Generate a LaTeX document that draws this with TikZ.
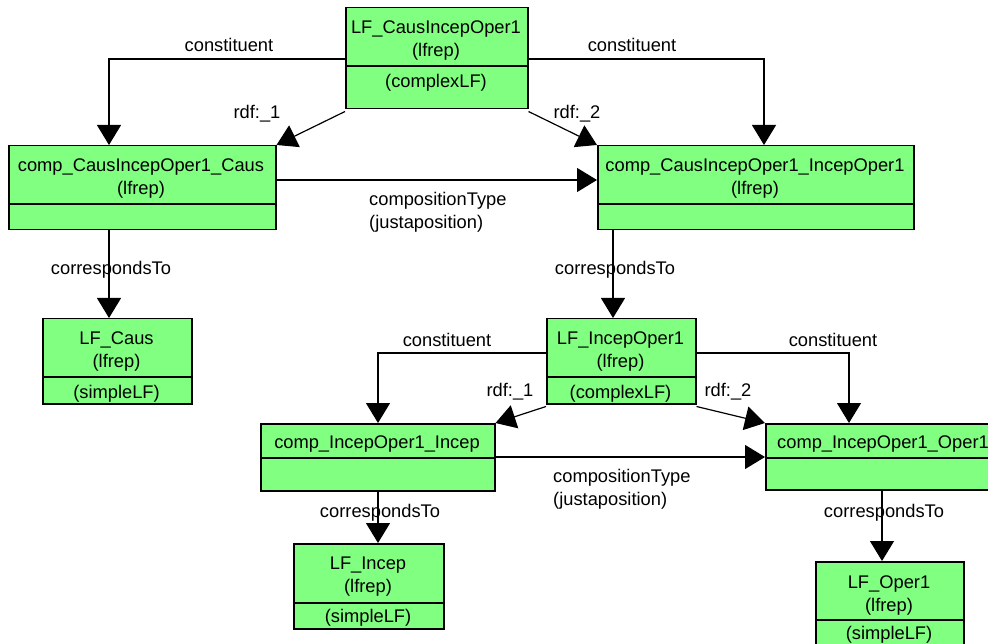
\documentclass[tikz,border=0pt]{standalone}
\usepackage{fontspec}
\setmainfont{Liberation Sans}
\usetikzlibrary{arrows.meta}
\definecolor{boxgreen}{RGB}{128,255,128}
\tikzset{
  umlbox/.style={draw=black, line width=1.5pt, fill=boxgreen, rectangle, inner sep=0pt, anchor=north west},
  txt/.style={inner sep=0pt, align=center, font=\fontsize{18.3}{23}\selectfont},
  lbl/.style={inner sep=0pt, font=\fontsize{18.3}{23}\selectfont},
  edge/.style={draw=black, line width=1.2pt, -{Triangle[width=24pt,length=20pt]}},
  divider/.style={draw=black, line width=1.5pt}
}
\begin{document}
\begin{tikzpicture}[x=1pt,y=-1pt]
\useasboundingbox (0,0) rectangle (988,644);
\fill[white] (0,0) rectangle (988,644);
\clip (0,0) rectangle (988,644);

% boxes
\node[umlbox, minimum width=182pt, minimum height=101pt] (b1) at (345,7) {};
\node[umlbox, minimum width=267pt, minimum height=84pt] (b2) at (8,145) {};
\node[umlbox, minimum width=316pt, minimum height=84pt] (b3) at (597,145) {};
\node[umlbox, minimum width=149pt, minimum height=85pt] (b4) at (42,318) {};
\node[umlbox, minimum width=149pt, minimum height=85pt] (b5) at (546,318) {};
\node[umlbox, minimum width=234pt, minimum height=67pt] (b6) at (260,423) {};
\node[umlbox, minimum width=236pt, minimum height=66pt] (b7) at (765,423) {};
\node[umlbox, minimum width=150pt, minimum height=85pt] (b8) at (293,543) {};
\node[umlbox, minimum width=148pt, minimum height=85pt] (b9) at (815,561) {};

% dividers
\draw[divider] ([yshift=-59pt]b1.north west) -- ([yshift=-59pt]b1.north east);
\draw[divider] ([yshift=-59pt]b2.north west) -- ([yshift=-59pt]b2.north east);
\draw[divider] ([yshift=-59pt]b3.north west) -- ([yshift=-59pt]b3.north east);
\draw[divider] ([yshift=-59pt]b4.north west) -- ([yshift=-59pt]b4.north east);
\draw[divider] ([yshift=-59pt]b5.north west) -- ([yshift=-59pt]b5.north east);
\draw[divider] ([yshift=-35pt]b6.north west) -- ([yshift=-35pt]b6.north east);
\draw[divider] ([yshift=-35pt]b7.north west) -- ([yshift=-35pt]b7.north east);
\draw[divider] ([yshift=-60pt]b8.north west) -- ([yshift=-60pt]b8.north east);
\draw[divider] ([yshift=-59pt]b9.north west) -- ([yshift=-59pt]b9.north east);

% box texts
\node[txt] (t1) at (436,40.5) {LF\_CausIncepOper1\\(lfrep)};
\node[txt] (t1b) at (436,83) {(complexLF)};
\node[txt] (t2) at (141,179) {comp\_CausIncepOper1\_Caus\\(lfrep)};
\node[txt] (t3) at (755,179) {comp\_CausIncepOper1\_IncepOper1\\(lfrep)};
\node[txt] (t4) at (116.5,352) {LF\_Caus\\(lfrep)};
\node[txt] (t4b) at (116.5,393.5) {(simpleLF)};
\node[txt] (t5) at (620.5,352) {LF\_IncepOper1\\(lfrep)};
\node[txt] (t5b) at (620.5,393.5) {(complexLF)};
\node[txt] (t6) at (377,444) {comp\_IncepOper1\_Incep};
\node[txt] (t7) at (883,444) {comp\_IncepOper1\_Oper1};
\node[txt] (t8) at (368,577) {LF\_Incep\\(lfrep)};
\node[txt] (t8b) at (368,618) {(simpleLF)};
\node[txt] (t9) at (889,595.5) {LF\_Oper1\\(lfrep)};
\node[txt] (t9b) at (889,635) {(simpleLF)};

% connectors
\draw[edge] ([yshift=-52pt]b1.north west) -| ([xshift=101pt]b2.north west);
\draw[edge] ([yshift=-52pt]b1.north east) -| ([xshift=167pt]b3.north west);
\draw[edge] ([yshift=-2pt]b1.south west) -- (b2.north east);
\draw[edge] ([yshift=-2pt]b1.south east) -- (b3.north west);
\draw[edge] ([yshift=-35pt]b2.north east) -- ([yshift=-35pt]b3.north west);
\draw[edge] ([xshift=101pt]b2.south west) -- ([xshift=67pt]b4.north west);
\draw[edge] ([xshift=16pt]b3.south west) -- ([xshift=67pt]b5.north west);
\draw[edge] ([yshift=-35pt]b5.north west) -| ([xshift=118pt]b6.north west);
\draw[edge] ([yshift=-35pt]b5.north east) -| ([xshift=84pt]b7.north west);
\draw[edge] ([yshift=-2pt]b5.south west) -- (b6.north east);
\draw[edge] ([yshift=-2pt]b5.south east) -- (b7.north west);
\draw[edge] ([yshift=-34pt]b6.north east) -- ([yshift=-34pt]b7.north west);
\draw[edge] ([xshift=118pt]b6.south west) -- ([xshift=85pt]b8.north west);
\draw[edge] ([xshift=117pt]b7.south west) -- ([xshift=67pt]b9.north west);

% connector labels
\node[lbl] (l1) at (229,45) {constituent};
\node[lbl] (l2) at (632,45) {constituent};
\node[lbl] (l3) at (257,114) {rdf:\_1};
\node[lbl] (l4) at (577,114) {rdf:\_2};
\node[lbl, align=left, anchor=west] (l5) at (369,212) {compositionType\\(justaposition)};
\node[lbl] (l6) at (111,270) {correspondsTo};
\node[lbl] (l7) at (615,270) {correspondsTo};
\node[lbl] (l8) at (447,340) {constituent};
\node[lbl] (l9) at (833,340) {constituent};
\node[lbl] (l10) at (510,392) {rdf:\_1};
\node[lbl] (l11) at (728,392) {rdf:\_2};
\node[lbl, align=left, anchor=west] (l12) at (553,489) {compositionType\\(justaposition)};
\node[lbl] (l13) at (380,513) {correspondsTo};
\node[lbl] (l14) at (884,513) {correspondsTo};
\end{tikzpicture}
\end{document}
